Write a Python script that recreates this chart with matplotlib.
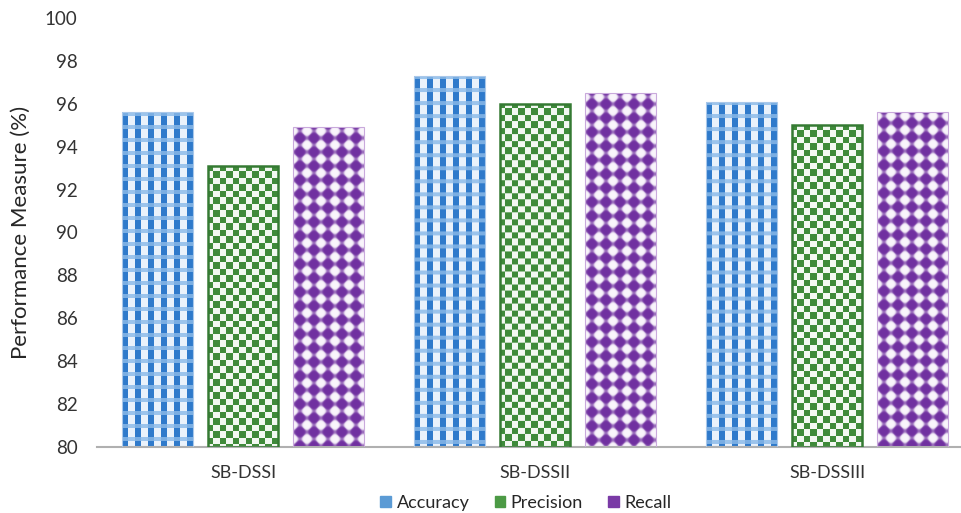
import numpy as np
import matplotlib
matplotlib.use('Agg')
import matplotlib.pyplot as plt
from matplotlib.patches import Patch

plt.rcParams['font.family'] = ['Lato', 'DejaVu Sans']

systems = ['SB-DSSI', 'SB-DSSII', 'SB-DSSIII']
metrics = ['Accuracy', 'Precision', 'Recall']
accuracy = [95.6, 97.3, 96.1]
precision = [93.1, 96.0, 95.0]
recall = [94.9, 96.5, 95.6]
yticks = [80, 82, 84, 86, 88, 90, 92, 94, 96, 98, 100]
base = 80


def hexrgb(h):
    h = h.lstrip('#')
    return np.array([int(h[i:i + 2], 16) / 255 for i in (0, 2, 4)])


def gingham(w, h):
    x, y = np.meshgrid(np.arange(w) + 0.5, np.arange(h) + 0.5)
    img = np.empty((h, w, 3))
    strip = (y % 13) < 4
    dark = (x % 13) < 6.5
    img[:] = hexrgb('#eaf2fb')
    img[dark] = hexrgb('#2f7acb')
    img[strip] = hexrgb('#9cc4ec')
    img[strip & dark] = hexrgb('#7aaee3')
    return img


def checker(w, h):
    x, y = np.meshgrid(np.arange(w) + 1.5, np.arange(h) + 1.5)
    on = ((x // 6.5) + (y // 6.5)) % 2 == 0
    img = np.empty((h, w, 3))
    img[:] = hexrgb('#f3f8f2')
    img[on] = hexrgb('#3f8b3a')
    return img


def diamonds(w, h):
    x, y = np.meshgrid(np.arange(w) + 0.5, np.arange(h) + 3.5)
    u = (x + y) / 14.0
    v = (x - y) / 14.0
    s = np.sin(np.pi * u) * np.sin(np.pi * v)
    t = 0.5 + 0.5 * np.tanh(4 * s + 0.4)
    purple = hexrgb('#7030a0')
    white = hexrgb('#faf6fc')
    return white[None, None, :] * (1 - t[..., None]) + purple[None, None, :] * t[..., None]


fig = plt.figure(figsize=(9.62, 5.13), dpi=100)
ax = fig.add_axes([97 / 962, 66 / 513, 876 / 962, 429 / 513])
ax.set_xlim(-0.5, 2.5)
ax.set_ylim(80, 100)

xs = np.arange(len(systems))
width = 0.243
step = 0.293
series = [accuracy, precision, recall]
fills = [gingham, checker, diamonds]
edges = ['#a9c8ea', '#357a33', '#c9a9dc']
lws = [0.8, 1.8, 0.8]

for i, (vals, fill, ec, lw) in enumerate(zip(series, fills, edges, lws)):
    heights = np.array(vals) - base
    bars = ax.bar(xs + (i - 1) * step, heights, width, bottom=base, color='none',
                  edgecolor=ec, linewidth=lw, zorder=3)
    for bar in bars:
        x0, y0 = bar.get_x(), bar.get_y()
        x1, y1 = x0 + bar.get_width(), y0 + bar.get_height()
        (px0, py0), (px1, py1) = ax.transData.transform([(x0, y0), (x1, y1)])
        w = max(int(round(px1 - px0)), 1)
        h = max(int(round(py1 - py0)), 1)
        im = ax.imshow(fill(w, h), extent=(x0, x1, y0, y1), origin='upper',
                       aspect='auto', interpolation='bilinear', zorder=2)
        im.set_clip_path(bar)

ax.set_xlim(-0.5, 2.5)
ax.set_ylim(80, 100)
ax.set_xticks(xs)
ax.set_xticklabels(systems)
ax.set_yticks(yticks)
ax.tick_params(axis='both', length=0, colors='#333333')
ax.tick_params(axis='x', pad=13, labelsize=13)
ax.tick_params(axis='y', pad=14, labelsize=13.5)
for side in ['top', 'right', 'left']:
    ax.spines[side].set_visible(False)
ax.spines['bottom'].set_color('#b0b0b0')
ax.spines['bottom'].set_linewidth(1.5)
ax.set_ylabel('Performance Measure (%)', fontsize=16, color='#262626', labelpad=10)

handles = [Patch(facecolor=c, edgecolor=c) for c in ['#5b9bd5', '#4c9a45', '#7a3aa6']]
fig.legend(handles, metrics, loc='center', bbox_to_anchor=(526 / 962, 1 - 503 / 513),
           ncol=3, frameon=False, fontsize=13, handlelength=0.6, handleheight=0.6,
           handletextpad=0.3, columnspacing=1.4, labelcolor='#262626')

fig.savefig('out.png', dpi=100)
